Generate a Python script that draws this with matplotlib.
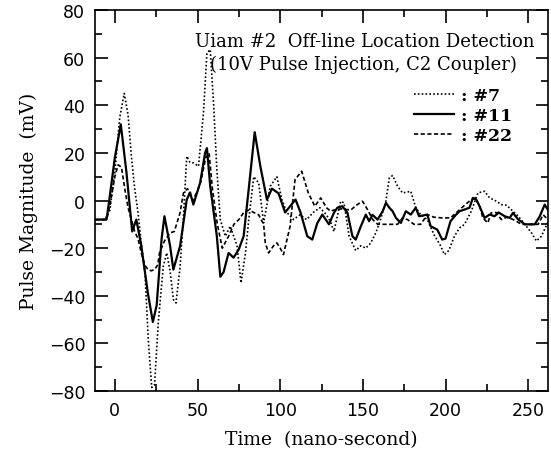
import matplotlib
matplotlib.use("Agg")
import matplotlib.pyplot as plt
from matplotlib.lines import Line2D
from matplotlib.ticker import MultipleLocator

# ---- data ----
x_11 = [-12, -5, -3, 0, 3.6, 7, 10.5, 13, 16, 20, 23, 25.3, 28.3, 30, 33.4, 35.4, 39.5, 43.5, 45.5, 47.5,
        51.6, 54.6, 55.7, 57.7, 61.7, 63.8, 65.8, 68.8, 71.8, 74.9, 77.9, 81, 84.6, 88, 92, 95, 99, 103,
        106, 109.3, 112.3, 116.4, 119.4, 122.5, 125.5, 129.5, 132.5, 134.6, 137.6, 140.7, 143.7, 145.7,
        148.8, 151.8, 153.8, 155.8, 158.9, 162, 164, 166, 168, 170, 173, 176, 179, 182, 184, 189, 191,
        195, 198, 200, 203, 206.4, 208.5, 211.5, 214.5, 216.6, 218.6, 220.6, 223.6, 226.7, 229.7, 232,
        235.8, 238.8, 240.8, 244, 248, 254, 257, 260, 262]
y_11 = [-8, -8, 2, 18, 32, 12, -13, -8, -19, -39, -51, -44, -16, -6.6, -19, -29, -19, 0.4, 3.4, -1.7,
        7.5, 20, 22, 6, -15, -32, -30, -22, -24, -20.6, -15, 5, 28.7, 14.4, 0.4, 5, 3, -5,
        -2.4, 0.4, -5, -15, -16.4, -9.4, -5.9, -10, -5.2, -3, -2.4, -5.2, -15, -16.4,
        -10.8, -5.9, -8.7, -6, -8, -4.5, -1, -3, -4.5, -7.3, -9.4, -4.5, -5.9, -3, -6.6, -5.9, -10.8,
        -12.2, -16.4, -16, -8.7, -5.9, -4.5, -3.8, -3, 1.1, 0.4, -2.4, -7.3, -5.9, -6.6, -5,
        -6.6, -7.3, -5.2, -8, -10, -10, -6.6, -1.7, -4]

x_7 = [-12, -6, -3, 0, 3, 5.7, 8, 10, 12, 14, 16, 18.2, 20.2, 22.3, 24, 26.3, 29.3, 31.4, 33.5, 35.4, 37,
       39.5, 41.5, 43.5, 45.5, 47.5, 50.6, 53.6, 55.7, 57.7, 59.7, 61.7, 63.8, 66.8, 69.8, 73.9, 76.3,
       79, 81, 84, 87, 90, 94, 98, 101, 104, 108, 112, 116, 120, 124, 128, 130.5, 132.5, 136.6, 138.6,
       141.7, 145.7, 148.8, 151.8, 154.8, 157.9, 161, 164, 166, 168, 171, 174, 176.5, 179, 182, 185,
       189, 193, 197, 199.3, 202, 205.4, 208.5, 211.5, 215.6, 219.6, 223.6, 226.7, 230, 233.8, 237,
       240, 244, 248, 252, 255, 258, 262]
y_7 = [-8, -8, -4, 12, 35, 45, 36, 18.6, 5, -5, -18, -30, -58, -78.5, -77.5, -51, -27.6, -22, -30, -41.6, -43,
       -27.6, -6.6, 18.6, 16, 15.8, 14.4, 36.8, 62, 63.4, 41, 13, -8, -15, -10.8, -19, -34.6,
       -22, -8, 10, 7.4, -9.4, 6, 10, 0.4, -5, -8, -6, -8, -5, -3, -6, -9, -13, -0.3, -1,
       -15, -21, -19, -20, -17.8, -13.5, -7.3, 0, 9.5, 10.5, 6, 3.2, 3.5, 3.9, -3, -6,
       -8, -14.3, -19, -22.7, -21, -15, -11.5, -10, -4.5, 3.2, 3.9, 1.1, 0, -1.7, -2,
       -4, -6.6, -10, -13.6, -17, -15, -9]

x_22 = [-12, -5, -3, 0, 2, 4, 6, 8, 10, 12, 14, 16, 18, 20, 22, 24, 26, 27, 30, 33.4, 36, 39.5, 41.5, 44,
        47, 50, 52, 55, 57, 59, 62, 65, 68.8, 72, 75, 78, 81, 84, 87, 90, 91, 93, 96, 98, 100, 102, 106,
        109, 113, 117, 121, 124.5, 128, 130.5, 132.5, 137, 142.7, 146, 149.8, 153, 156, 159, 165, 171,
        174, 177, 181, 185, 189, 193, 198, 203, 207.5, 211.5, 215.6, 218, 220.5, 222.6, 225.6, 227.6,
        230.5, 233.8, 237, 241, 246, 251, 256, 259, 262]
y_22 = [-8, -8, -2, 10, 15, 14, 5, -3, -8, -13, -16, -22, -27, -29, -29.5, -29, -27, -22, -17, -13.6, -13,
        -5, 3.2, 5, 0, 4, 8, 18, 20, 5, -10, -20, -15, -10, -8, -5, -4, -5, -6, -10, -17.8, -22, -19,
        -17.8, -20, -22.7, -10.8, 8.8, 12.3, 3.2, -2.4, 1.1, -3, -4.5, -4, -3.5, -4, -2, -0.3, -4, -8,
        -10, -10, -10, -7.3, -8, -10, -10, -5.9, -7, -7.3, -7.3, -4.5, -2, 0.4, 1, -2, -7.3, -9.4,
        -5.2, -5, -8, -7, -8, -10, -10, -10, -6, -8]

labels = [": #7", ": #11", ": #22"]
x_ticks = [0, 50, 100, 150, 200, 250]
y_ticks = [-80, -60, -40, -20, 0, 20, 40, 60, 80]

# ---- figure ----
fig = plt.figure(figsize=(5.51, 4.60), dpi=100)
ax = fig.add_axes([0.1724, 0.1478, 0.8222, 0.8282])

style_7 = dict(color="black", lw=1.2, linestyle=(0, (1, 1.3)))
style_11 = dict(color="black", lw=1.6, linestyle="-")
style_22 = dict(color="black", lw=1.2, linestyle=(0, (2.5, 1.5)))

ax.plot(x_7, y_7, **style_7)
ax.plot(x_22, y_22, **style_22)
ax.plot(x_11, y_11, **style_11)

ax.set_xlim(-12, 262)
ax.set_ylim(-80, 80)
ax.set_xticks(x_ticks)
ax.set_yticks(y_ticks)
ax.xaxis.set_minor_locator(MultipleLocator(25))
ax.yaxis.set_minor_locator(MultipleLocator(10))
ax.tick_params(which="both", direction="in", top=True, right=True, width=1.2)
ax.tick_params(which="major", length=9, labelsize=12.5, pad=7)
ax.tick_params(which="minor", length=5)
for sp in ax.spines.values():
    sp.set_linewidth(1.2)
for lab in ax.get_xticklabels() + ax.get_yticklabels():
    lab.set_family("DejaVu Sans")

serif = "DejaVu Serif"
ax.set_xlabel("Time  (nano-second)", family=serif, fontsize=13.5, labelpad=8)
ax.set_ylabel("Pulse Magnitude  (mV)", family=serif, fontsize=13.5, labelpad=8)

ax.text(0.971, 0.919, "Uiam #2  Off-line Location Detection", transform=ax.transAxes,
        ha="right", va="center", family=serif, fontsize=13)
ax.text(0.932, 0.858, "(10V Pulse Injection, C2 Coupler)", transform=ax.transAxes,
        ha="right", va="center", family=serif, fontsize=13)

handles = [Line2D([], [], **style_7), Line2D([], [], **style_11), Line2D([], [], **style_22)]
leg = ax.legend(handles, labels, loc="upper right", bbox_to_anchor=(0.955, 0.838), frameon=False,
                prop={"family": serif, "size": 12.5, "weight": "bold"}, handlelength=2.3,
                handletextpad=0.4, labelspacing=0.15)

fig.savefig("out.png", dpi=100)
